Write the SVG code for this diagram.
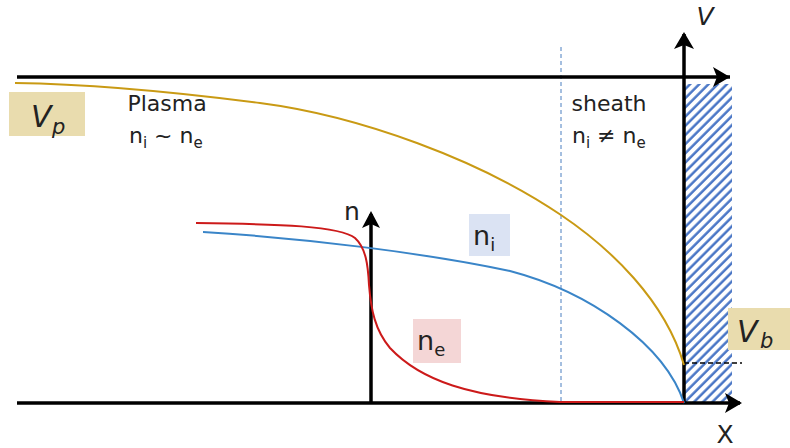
<svg xmlns="http://www.w3.org/2000/svg" width="790" height="448" viewBox="0 0 790 448">
<defs>
<style>
.t{font-family:"DejaVu Sans","Liberation Sans",sans-serif;fill:#222}
.ax{stroke:#000;stroke-width:3.5;fill:none}
.cv{fill:none;stroke-width:2}
</style>
<pattern id="hatch" patternUnits="userSpaceOnUse" width="6.5" height="6.5" patternTransform="rotate(45)">
<line x1="1.5" y1="0" x2="1.5" y2="6.5" stroke="#4472c4" stroke-width="2.4"/>
</pattern>
</defs>
<rect width="790" height="448" fill="#fff"/>
<g id="wall"><rect x="684" y="84" width="48" height="319" fill="url(#hatch)"/></g>
<g id="sheath-edge"><line x1="561" y1="47" x2="561" y2="403" stroke="#4a7fc0" stroke-width="1" stroke-dasharray="4,3"/></g>
<g id="connectors">
<line class="ax" x1="17" y1="77" x2="730" y2="77"/>
<path d="M730,77 L713,67 L717,77 L713,87 Z" fill="#000"/>
<line class="ax" x1="17" y1="403" x2="740" y2="403"/>
<path d="M742,403 L725,393 L729,403 L725,413 Z" fill="#000"/>
<line class="ax" x1="684" y1="403" x2="684" y2="34"/>
<path d="M684,32 L674,49 L684,45 L694,49 Z" fill="#000"/>
<line class="ax" x1="371" y1="403" x2="371" y2="214"/>
<path d="M371,211 L362,228 L371,224 L380,228 Z" fill="#000"/>
<line x1="684" y1="363" x2="742" y2="363" stroke="#000" stroke-width="1.6" stroke-dasharray="5,3"/>
</g>
<g id="Vp-curve"><path class="cv" stroke="#c99a14" d="M15,83 C100,84 190,94 260,103 C360,116 480,160 561,215 C610,248 665,300 684,365"/></g>
<g id="ni-curve"><path class="cv" stroke="#3a85c8" d="M203,232 C300,238 420,252 510,271 C590,292 665,345 684,403"/></g>
<g id="ne-curve"><path class="cv" stroke="#cc1a1a" d="M196,223 C280,224 340,226 355,238 C366,248 368,265 369,285 C371,310 375,330 390,348 C420,380 470,398 560,402 L684,402"/></g>
<g id="Vp">
<rect x="9" y="92" width="76" height="44" fill="#e9dcae"/>
<text class="t" x="31" y="127" font-size="30" font-style="italic">V</text>
<text class="t" x="52" y="134" font-size="21" font-style="italic">p</text>
</g>
<g id="Vb">
<rect x="728" y="308" width="62" height="42" fill="#e9dcae"/>
<text class="t" x="737" y="342" font-size="30" font-style="italic">V</text>
<text class="t" x="760" y="348" font-size="21" font-style="italic">b</text>
</g>
<g id="plasma">
<text class="t" x="167" y="111" font-size="22" text-anchor="middle">Plasma</text>
<text class="t" x="129" y="143" font-size="22">n<tspan font-size="15" dy="5">i</tspan><tspan dy="-5"> ~ n</tspan><tspan font-size="15" dy="5">e</tspan></text>
</g>
<g id="sheath">
<text class="t" x="609" y="111" font-size="22" text-anchor="middle">sheath</text>
<text class="t" x="572" y="143" font-size="22">n<tspan font-size="15" dy="5">i</tspan><tspan dy="-5"> ≠ n</tspan><tspan font-size="15" dy="5">e</tspan></text>
</g>
<g id="ni">
<rect x="469" y="214" width="41" height="42" fill="#dbe3f3"/>
<text class="t" x="473" y="245" font-size="27">n<tspan font-size="18" dy="6">i</tspan></text>
</g>
<g id="ne">
<rect x="413" y="319" width="48" height="44" fill="#f4d6d6"/>
<text class="t" x="417" y="350" font-size="27">n<tspan font-size="18" dy="6">e</tspan></text>
</g>
<g id="labels">
<text class="t" x="705" y="25" font-size="25" font-style="italic" text-anchor="middle">V</text>
<text class="t" x="725" y="443" font-size="25" text-anchor="middle">X</text>
<text class="t" x="352" y="220" font-size="25" text-anchor="middle">n</text>
</g>
</svg>
